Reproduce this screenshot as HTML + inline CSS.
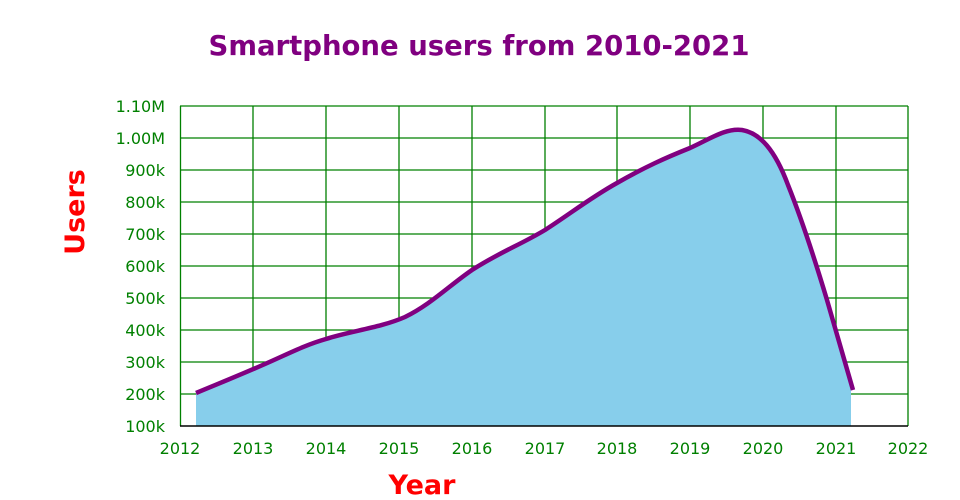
<!DOCTYPE html>
<html><head><meta charset="utf-8"><style>
html,body{margin:0;padding:0;background:#fff;}
svg{display:block;font-family:"DejaVu Sans","Liberation Sans",sans-serif;}
</style></head><body>
<svg width="960" height="500" viewBox="0 0 960 500">
<text x="479" y="55" text-anchor="middle" font-size="27.5" font-weight="bold" fill="#800080">Smartphone users from 2010-2021</text>
<g stroke="#008000" stroke-width="1.3" fill="none">
<line x1="180" y1="106" x2="908" y2="106"/><line x1="180" y1="138" x2="908" y2="138"/>
<line x1="180" y1="170" x2="908" y2="170"/><line x1="180" y1="202" x2="908" y2="202"/>
<line x1="180" y1="234" x2="908" y2="234"/><line x1="180" y1="266" x2="908" y2="266"/>
<line x1="180" y1="298" x2="908" y2="298"/><line x1="180" y1="330" x2="908" y2="330"/>
<line x1="180" y1="362" x2="908" y2="362"/><line x1="180" y1="394" x2="908" y2="394"/>
<line x1="180.5" y1="106" x2="180.5" y2="426"/><line x1="253" y1="106" x2="253" y2="426"/>
<line x1="326" y1="106" x2="326" y2="426"/><line x1="399" y1="106" x2="399" y2="426"/>
<line x1="472" y1="106" x2="472" y2="426"/><line x1="545" y1="106" x2="545" y2="426"/>
<line x1="617" y1="106" x2="617" y2="426"/><line x1="690" y1="106" x2="690" y2="426"/>
<line x1="763" y1="106" x2="763" y2="426"/><line x1="836" y1="106" x2="836" y2="426"/>
<line x1="908" y1="106" x2="908" y2="426"/>
</g>
<path d="M196,393 C220,383 240,375 265,364 C290,353 305,345 326,339 C350,331 380,328 405,317 C430,305 450,285 472,270 C500,252 520,245 545,230 C570,214 590,198 617,183 C645,167 665,158 690,148 C710,139 725,128 742,130 C760,133 775,150 788,185 C800,215 815,260 827,300 L851,390 L851,426 L196,426 Z" fill="#87ceeb"/>
<line x1="180" y1="426" x2="908" y2="426" stroke="#000" stroke-width="1.5"/>
<path d="M196,393 C220,383 240,375 265,364 C290,353 305,345 326,339 C350,331 380,328 405,317 C430,305 450,285 472,270 C500,252 520,245 545,230 C570,214 590,198 617,183 C645,167 665,158 690,148 C710,139 725,128 742,130 C760,133 775,150 788,185 C800,215 815,260 827,300 L853,390" fill="none" stroke="#800080" stroke-width="4.5"/>
<g fill="#008000" font-size="16" text-anchor="end">
<text x="165" y="112">1.10M</text><text x="165" y="144">1.00M</text>
<text x="165" y="176">900k</text><text x="165" y="208">800k</text>
<text x="165" y="240">700k</text><text x="165" y="272">600k</text>
<text x="165" y="304">500k</text><text x="165" y="336">400k</text>
<text x="165" y="368">300k</text><text x="165" y="400">200k</text>
<text x="165" y="432">100k</text>
</g>
<g fill="#008000" font-size="16" text-anchor="middle">
<text x="180" y="454">2012</text><text x="253" y="454">2013</text><text x="326" y="454">2014</text>
<text x="399" y="454">2015</text><text x="472" y="454">2016</text><text x="545" y="454">2017</text>
<text x="617" y="454">2018</text><text x="690" y="454">2019</text><text x="763" y="454">2020</text>
<text x="836" y="454">2021</text><text x="908" y="454">2022</text>
</g>
<text x="422" y="494" text-anchor="middle" font-size="27" font-weight="bold" fill="#ff0000">Year</text>
<text transform="translate(84,212) rotate(-90)" text-anchor="middle" font-size="27" font-weight="bold" fill="#ff0000">Users</text>
</svg>
</body></html>
